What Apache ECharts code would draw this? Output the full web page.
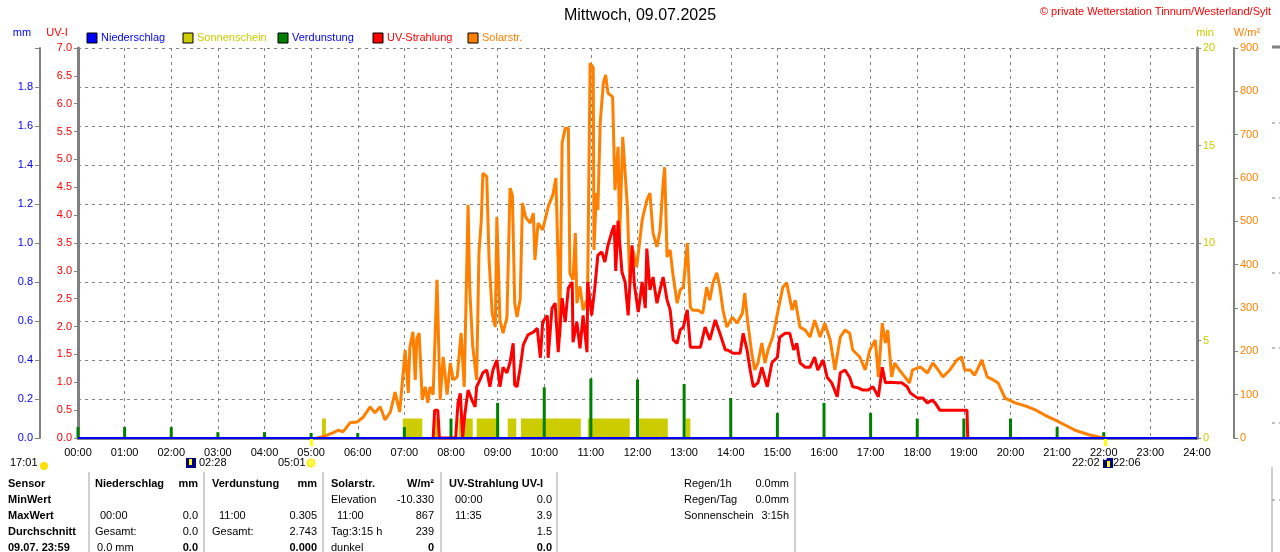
<!DOCTYPE html>
<html>
<head>
<meta charset="utf-8">
<title>Mittwoch, 09.07.2025</title>
<script src="https://cdn.jsdelivr.net/npm/echarts@6/dist/echarts.min.js"></script>
<style>
    html, body { margin: 0; padding: 0; background: #fff; }
    #main { width: 1280px; height: 552px; }
</style>
</head>
<body>
<div id="main"></div>
<script>
// Minuten seit 00:00
var hourLabels = ['00:00', '01:00', '02:00', '03:00', '04:00', '05:00', '06:00', '07:00', '08:00', '09:00', '10:00', '11:00', '12:00',
    '13:00', '14:00', '15:00', '16:00', '17:00', '18:00', '19:00', '20:00', '21:00', '22:00', '23:00', '24:00'];

// Solarstrahlung W/m2
var solarTimes = [308, 318, 328, 335, 341, 350, 359, 367, 376, 382, 389, 395, 402, 408, 414, 421, 425, 427, 431, 434, 436, 439, 443, 447, 450, 453, 457,
    462, 466, 470, 475, 479, 483, 488, 493, 497, 502, 504, 508, 513, 516, 519, 521, 526, 529, 533, 537, 539, 543, 547, 552, 556, 559, 562, 565,
    569, 572, 576, 582, 586, 588, 592, 598, 605, 611, 615, 618, 620, 623, 627, 631, 633, 637, 640, 642, 646, 650, 655, 656, 659, 663, 664, 667,
    669, 672, 676, 679, 682, 688, 691, 695, 697, 701, 707, 710, 714, 719, 726, 732, 736, 740, 745, 749, 753, 755, 758, 762, 766, 771, 775, 779,
    784, 788, 791, 798, 804, 809, 813, 817, 822, 826, 830, 835, 842, 848, 855, 858, 862, 867, 871, 875, 880, 884, 888, 894, 901, 907, 912, 919,
    923, 929, 936, 942, 948, 955, 961, 968, 974, 981, 987, 993, 997, 1006, 1013, 1019, 1026, 1030, 1035, 1039, 1042, 1047, 1051, 1057, 1064,
    1070, 1074, 1084, 1093, 1100, 1107, 1113, 1122, 1131, 1137, 1141, 1148, 1154, 1163, 1170, 1178, 1184, 1193, 1206, 1219, 1232, 1244, 1257,
    1270, 1283, 1302, 1315, 1322];
var solarValues = [0, 5, 12, 18, 14, 35, 37, 48, 72, 58, 72, 42, 60, 106, 60, 203, 104, 208, 245, 134, 230, 242, 88, 118, 81, 118, 100,
    365, 88, 187, 100, 173, 134, 141, 242, 118, 538, 348, 210, 134, 427, 503, 611, 603, 411, 288, 256, 510, 272, 242, 279, 577, 560, 311, 279,
    320, 542, 510, 496, 519, 411, 496, 480, 533, 561, 600, 395, 233, 681, 715, 715, 380, 365, 473, 311, 350, 295, 320, 365, 865, 855, 434, 565,
    526, 727, 819, 838, 796, 787, 572, 672, 464, 695, 533, 358, 434, 395, 503, 549, 565, 473, 441, 480, 588, 625, 418, 434, 372, 311, 342, 348,
    450, 302, 295, 295, 288, 348, 318, 358, 381, 348, 295, 256, 279, 265, 288, 334, 265, 196, 157, 173, 219, 173, 203, 233, 295, 348, 358, 295,
    318, 256, 249, 233, 272, 233, 265, 226, 157, 233, 249, 242, 203, 187, 157, 203, 226, 141, 265, 219, 249, 141, 173, 157, 141,
    127, 157, 164, 150, 173, 157, 141, 157, 180, 187, 157, 157, 145, 180, 141, 134, 127, 92, 81, 74, 65, 53, 42,
    30, 18, 7, 2, 0];

// UV-Index
var uvTimes = [457, 459, 463, 465, 486, 489, 492, 494, 495, 498, 502, 507, 511, 513, 517, 521, 526, 530, 534, 539, 543, 547, 552, 556, 560,
    562, 565, 569, 573, 579, 586, 591, 595, 598, 604, 605, 610, 614, 618, 623, 627, 631, 636, 637, 642, 646, 650, 655, 656, 661, 665, 669,
    674, 678, 682, 687, 690, 692, 695, 700, 704, 708, 713, 716, 721, 726, 730, 732, 736, 740, 745, 749, 753, 758, 762, 766, 771, 775, 779,
    784, 788, 801, 807, 813, 820, 826, 833, 836, 843, 852, 856, 861, 865, 869, 875, 880, 887, 893, 900, 903, 910, 916, 921, 925, 929, 936,
    942, 948, 952, 959, 964, 970, 977, 981, 987, 993, 997, 1004, 1010, 1017, 1023, 1030, 1035, 1039, 1045, 1054, 1060, 1067, 1071, 1080,
    1087, 1093, 1099, 1103, 1109, 1118, 1139, 1144, 1145];
var uvValues = [0, 0.5, 0.5, 0, 0, 0.63, 0.8, 0.27, 0, 0.45, 0.86, 0.68, 0.56, 0.92, 1.04, 1.17, 1.22, 0.92, 1.22, 1.4, 0.92, 1.27, 1.17, 1.36, 1.7,
    0.95, 0.92, 1.25, 1.67, 1.85, 1.9, 1.97, 1.44, 2.08, 2.2, 1.44, 2.33, 2.42, 1.54, 2.51, 2.08, 2.69, 2.8, 1.72, 2.08, 1.61, 2.2, 1.54, 2.8, 2.2, 2.69, 3.28,
    3.34, 3.16, 3.46, 3.7, 3.82, 3.0, 3.9, 2.98, 2.8, 2.2, 3.46, 2.75, 2.26, 2.8, 2.33, 3.4, 2.66, 2.89, 2.42, 2.66, 2.89, 2.48, 2.3, 1.76, 1.7, 1.94, 1.99,
    2.3, 1.63, 1.63, 1.99, 1.76, 2.12, 1.88, 1.58, 1.58, 1.52, 1.52, 1.88, 1.58, 1.22, 0.92, 0.99, 1.27, 0.92, 1.35, 1.45, 1.81, 1.88, 1.88, 1.58, 1.7, 1.35, 1.27,
    1.27, 1.45, 1.22, 1.4, 1.09, 0.99, 0.74, 1.17, 1.22, 1.09, 0.92, 0.9, 0.86, 0.86, 0.92, 0.74, 1.27, 0.99, 1.0, 0.99, 0.99, 0.92, 0.81, 0.72,
    0.72, 0.63, 0.68, 0.63, 0.5, 0.5, 0.5, 0.5, 0];

// Verdunstung mm je Stunde
var evapHours = [0, 1, 2, 3, 4, 5, 6, 7, 8, 9, 10, 11, 12, 13, 14, 15, 16, 17, 18, 19, 20, 21, 22, 23];
var evapValues = [0.056, 0.056, 0.056, 0.03, 0.03, 0.026, 0.026, 0.056, 0.1, 0.18, 0.26, 0.305, 0.3, 0.277, 0.205, 0.128, 0.18, 0.128, 0.1, 0.1,
    0.1, 0.056, 0.03, 0];

// Sonnenschein (Minuten von/bis)
var sunStart = [314, 418, 458, 490, 513, 553, 570, 656, 719, 782];
var sunEnd = [319, 443, 466, 508, 542, 564, 647, 710, 759, 788];
var sunLevel = 1;

// Niederschlag
var rainTimes = [0, 1440];
var rainValues = [0, 0];

var FONT = 'Liberation Sans, Arial, sans-serif';

function zip(a, b) {
    var out = [];
    for (var i = 0; i < a.length; i++) {
        out.push([a[i], b[i]]);
    }
    return out;
}

// Sonnenschein als Rechtecke aus Flaechen
var sunData = [[0, 0]];
for (var i = 0; i < sunStart.length; i++) {
    sunData.push([sunStart[i], 0], [sunStart[i], sunLevel], [sunEnd[i], sunLevel], [sunEnd[i], 0]);
}
sunData.push([1440, 0]);

var evapData = [];
for (var j = 0; j < evapHours.length; j++) {
    evapData.push([evapHours[j] * 60, evapValues[j]]);
}

function txt(x, y, s, color, opt) {
    opt = opt || {};
    return {
        type: 'text',
        silent: true,
        z: 50,
        style: {
            text: s,
            x: x,
            y: y,
            fill: color || '#000',
            font: (opt.bold ? 'bold ' : '') + (opt.size || 11) + 'px ' + FONT,
            textAlign: opt.align || 'left',
            textVerticalAlign: 'middle'
        }
    };
}

function vline(x, y1, y2, color, w) {
    return {
        type: 'line', silent: true, z: 50,
        shape: {x1: x, y1: y1, x2: x, y2: y2},
        style: {stroke: color || '#a0a0a0', lineWidth: w || 1}
    };
}

function hline(x1, x2, y, color, w, dash) {
    return {
        type: 'line', silent: true, z: 50,
        shape: {x1: x1, y1: y, x2: x2, y2: y},
        style: {stroke: color || '#808080', lineWidth: w || 1, lineDash: dash || null}
    };
}

function swatch(x, color) {
    return {
        type: 'rect', silent: true, z: 50,
        shape: {x: x, y: 33, width: 10, height: 10},
        style: {fill: color, stroke: '#000', lineWidth: 1}
    };
}

var graphics = [
    txt(640, 16, 'Mittwoch, 09.07.2025', '#000', {size: 16, align: 'center'}),
    txt(1271, 12, '© private Wetterstation Tinnum/Westerland/Sylt', '#ff0000', {align: 'right'}),

    // Legende
    swatch(87, '#0000ff'), txt(101, 38, 'Niederschlag', '#0000ff'),
    swatch(183, '#cccc00'), txt(197, 38, 'Sonnenschein', '#cccc00'),
    swatch(278, '#008000'), txt(292, 38, 'Verdunstung', '#0000ff'),
    swatch(373, '#ff0000'), txt(387, 38, 'UV-Strahlung', '#ff0000'),
    swatch(468, '#ff8000'), txt(482, 38, 'Solarstr.', '#ff8000'),

    // Achsentitel
    txt(22, 33, 'mm', '#0000ff', {align: 'center'}),
    txt(57, 33, 'UV-I', '#ff0000', {align: 'center'}),
    txt(1205, 33, 'min', '#cccc00', {align: 'center'}),
    txt(1247, 33, 'W/m²', '#ff8000', {align: 'center'}),

    // Sonne / Mond
    txt(10, 463, '17:01', '#000'),
    {type: 'circle', silent: true, z: 50, shape: {cx: 44, cy: 466, r: 4}, style: {fill: '#ffe000'}},
    {type: 'rect', silent: true, z: 50, shape: {x: 186, y: 458, width: 10, height: 10}, style: {fill: '#000080'}},
    {type: 'rect', silent: true, z: 51, shape: {x: 189, y: 459, width: 3, height: 6}, style: {fill: '#ffff00'}},
    txt(199, 463, '02:28', '#000'),
    txt(278, 463, '05:01', '#000'),
    {type: 'circle', silent: true, z: 50, shape: {cx: 311, cy: 463, r: 4}, style: {fill: '#ffff40', stroke: '#ffe000', lineWidth: 1}},
    txt(1072, 463, '22:02', '#000'),
    {type: 'rect', silent: true, z: 50, shape: {x: 1103, y: 458, width: 10, height: 10}, style: {fill: '#000080'}},
    {type: 'rect', silent: true, z: 51, shape: {x: 1107, y: 461, width: 3, height: 6}, style: {fill: '#ffff00'}},
    {type: 'circle', silent: true, z: 51, shape: {cx: 1105, cy: 458, r: 2}, style: {fill: '#fff'}},
    txt(1113, 463, '22:06', '#000'),
    {type: 'rect', silent: true, z: 50, shape: {x: 310, y: 439, width: 3, height: 7}, style: {fill: '#ffff00'}},
    {type: 'rect', silent: true, z: 50, shape: {x: 1104, y: 439, width: 3, height: 7}, style: {fill: '#ffff00'}},

    // Tabelle
    vline(89, 472, 552), vline(204, 472, 552), vline(323, 472, 552), vline(441, 472, 552), vline(557, 472, 552), vline(795, 472, 552),
    vline(1272, 467, 552),

    txt(8, 484, 'Sensor', '#000', {bold: true}),
    txt(8, 500, 'MinWert', '#000', {bold: true}),
    txt(8, 516, 'MaxWert', '#000', {bold: true}),
    txt(8, 532, 'Durchschnitt', '#000', {bold: true}),
    txt(8, 548, '09.07. 23:59', '#000', {bold: true}),

    txt(95, 484, 'Niederschlag', '#000', {bold: true}),
    txt(198, 484, 'mm', '#000', {bold: true, align: 'right'}),
    txt(100, 516, '00:00'), txt(198, 516, '0.0', '#000', {align: 'right'}),
    txt(95, 532, 'Gesamt:'), txt(198, 532, '0.0', '#000', {align: 'right'}),
    txt(97, 548, '0.0 mm'), txt(198, 548, '0.0', '#000', {bold: true, align: 'right'}),

    txt(212, 484, 'Verdunstung', '#000', {bold: true}),
    txt(317, 484, 'mm', '#000', {bold: true, align: 'right'}),
    txt(219, 516, '11:00'), txt(317, 516, '0.305', '#000', {align: 'right'}),
    txt(212, 532, 'Gesamt:'), txt(317, 532, '2.743', '#000', {align: 'right'}),
    txt(317, 548, '0.000', '#000', {bold: true, align: 'right'}),

    txt(331, 484, 'Solarstr.', '#000', {bold: true}),
    txt(434, 484, 'W/m²', '#000', {bold: true, align: 'right'}),
    txt(331, 500, 'Elevation'), txt(434, 500, '-10.330', '#000', {align: 'right'}),
    txt(337, 516, '11:00'), txt(434, 516, '867', '#000', {align: 'right'}),
    txt(331, 532, 'Tag:3:15 h'), txt(434, 532, '239', '#000', {align: 'right'}),
    txt(331, 548, 'dunkel'), txt(434, 548, '0', '#000', {bold: true, align: 'right'}),

    txt(449, 484, 'UV-Strahlung UV-I', '#000', {bold: true}),
    txt(455, 500, '00:00'), txt(552, 500, '0.0', '#000', {align: 'right'}),
    txt(455, 516, '11:35'), txt(552, 516, '3.9', '#000', {align: 'right'}),
    txt(552, 532, '1.5', '#000', {align: 'right'}),
    txt(552, 548, '0.0', '#000', {bold: true, align: 'right'}),

    txt(684, 484, 'Regen/1h'), txt(789, 484, '0.0mm', '#000', {align: 'right'}),
    txt(684, 500, 'Regen/Tag'), txt(789, 500, '0.0mm', '#000', {align: 'right'}),
    txt(684, 516, 'Sonnenschein'), txt(789, 516, '3:15h', '#000', {align: 'right'}),

    // Rest der naechsten Grafik am rechten Rand
    hline(1272, 1280, 47, '#808080', 3),
    hline(1272, 1280, 123, '#808080', 1, [3, 4]),
    hline(1272, 1280, 198, '#808080', 1, [3, 4]),
    hline(1272, 1280, 273, '#808080', 1, [3, 4]),
    hline(1272, 1280, 348, '#808080', 1, [3, 4]),
    hline(1272, 1280, 423, '#808080', 1, [3, 4]),
    hline(1272, 1280, 500, '#808080', 1, [3, 4])
];

var myChart = echarts.init(document.getElementById('main'), null, {renderer: 'canvas'});

var gridDash = {color: '#808080', width: 1, type: [3, 4]};

var option = {
    animation: false,
    backgroundColor: '#fff',
    textStyle: {fontFamily: FONT},
    grid: {left: 78, right: 83, top: 48, bottom: 114, containLabel: false},
    xAxis: [{
        type: 'value',
        min: 0,
        max: 1440,
        interval: 60,
        axisLine: {show: false},
        axisTick: {show: false},
        axisLabel: {
            color: '#000', fontSize: 11, fontFamily: FONT, margin: 9,
            formatter: function (v) {
                return hourLabels[Math.round(v / 60)];
            }
        },
        splitLine: {show: true, lineStyle: gridDash}
    }, {
        type: 'value',
        position: 'top',
        min: 0,
        max: 1440,
        axisLine: {show: true, lineStyle: {color: '#808080', width: 3}},
        axisTick: {show: false},
        axisLabel: {show: false},
        splitLine: {show: false}
    }],
    yAxis: [{
        // UV-I
        type: 'value', position: 'left', offset: 0,
        min: 0, max: 7, interval: 0.5,
        axisLine: {show: true, onZero: false, lineStyle: {color: '#808080', width: 3}},
        axisTick: {show: true, length: 4, lineStyle: {color: '#808080'}},
        axisLabel: {
            color: '#ff0000', fontSize: 11, fontFamily: FONT, margin: 6,
            formatter: function (v) { return v.toFixed(1); }
        },
        splitLine: {show: false}
    }, {
        // mm
        type: 'value', position: 'left', offset: 38,
        min: 0, max: 2, interval: 0.2,
        axisLine: {show: true, onZero: false, lineStyle: {color: '#808080', width: 2}},
        axisTick: {show: true, length: 5, lineStyle: {color: '#808080'}},
        axisLabel: {
            color: '#0000ff', fontSize: 11, fontFamily: FONT, margin: 7,
            formatter: function (v) { return v >= 1.99 ? '' : v.toFixed(1); }
        },
        splitLine: {show: true, lineStyle: gridDash}
    }, {
        // min
        type: 'value', position: 'right', offset: 0,
        min: 0, max: 20, interval: 5,
        axisLine: {show: true, onZero: false, lineStyle: {color: '#808080', width: 3}},
        axisTick: {show: true, length: 4, lineStyle: {color: '#808080'}},
        axisLabel: {color: '#cccc00', fontSize: 11, fontFamily: FONT, margin: 6},
        splitLine: {show: false}
    }, {
        // W/m2
        type: 'value', position: 'right', offset: 37,
        min: 0, max: 900, interval: 100,
        axisLine: {show: true, onZero: false, lineStyle: {color: '#808080', width: 2}},
        axisTick: {show: true, length: 4, lineStyle: {color: '#808080'}},
        axisLabel: {color: '#ff8000', fontSize: 11, fontFamily: FONT, margin: 6},
        splitLine: {show: false}
    }],
    graphic: graphics,
    series: [{
        name: 'Sonnenschein',
        type: 'line',
        yAxisIndex: 2,
        data: sunData,
        symbol: 'none',
        lineStyle: {width: 0},
        areaStyle: {color: '#cccc00', opacity: 1},
        z: 1
    }, {
        name: 'Verdunstung',
        type: 'bar',
        yAxisIndex: 1,
        data: evapData,
        barWidth: 3,
        itemStyle: {color: '#008000'},
        z: 2
    }, {
        name: 'Solarstr.',
        type: 'line',
        yAxisIndex: 3,
        data: zip(solarTimes, solarValues),
        symbol: 'none',
        lineStyle: {color: '#ff8000', width: 3},
        z: 3
    }, {
        name: 'UV-Strahlung',
        type: 'line',
        yAxisIndex: 0,
        data: zip(uvTimes, uvValues),
        symbol: 'none',
        lineStyle: {color: '#ff0000', width: 3},
        z: 4
    }, {
        name: 'Niederschlag',
        type: 'line',
        yAxisIndex: 1,
        data: zip(rainTimes, rainValues),
        symbol: 'none',
        lineStyle: {color: '#0000ff', width: 2},
        z: 5
    }]
};

myChart.setOption(option);
</script>
</body>
</html>
